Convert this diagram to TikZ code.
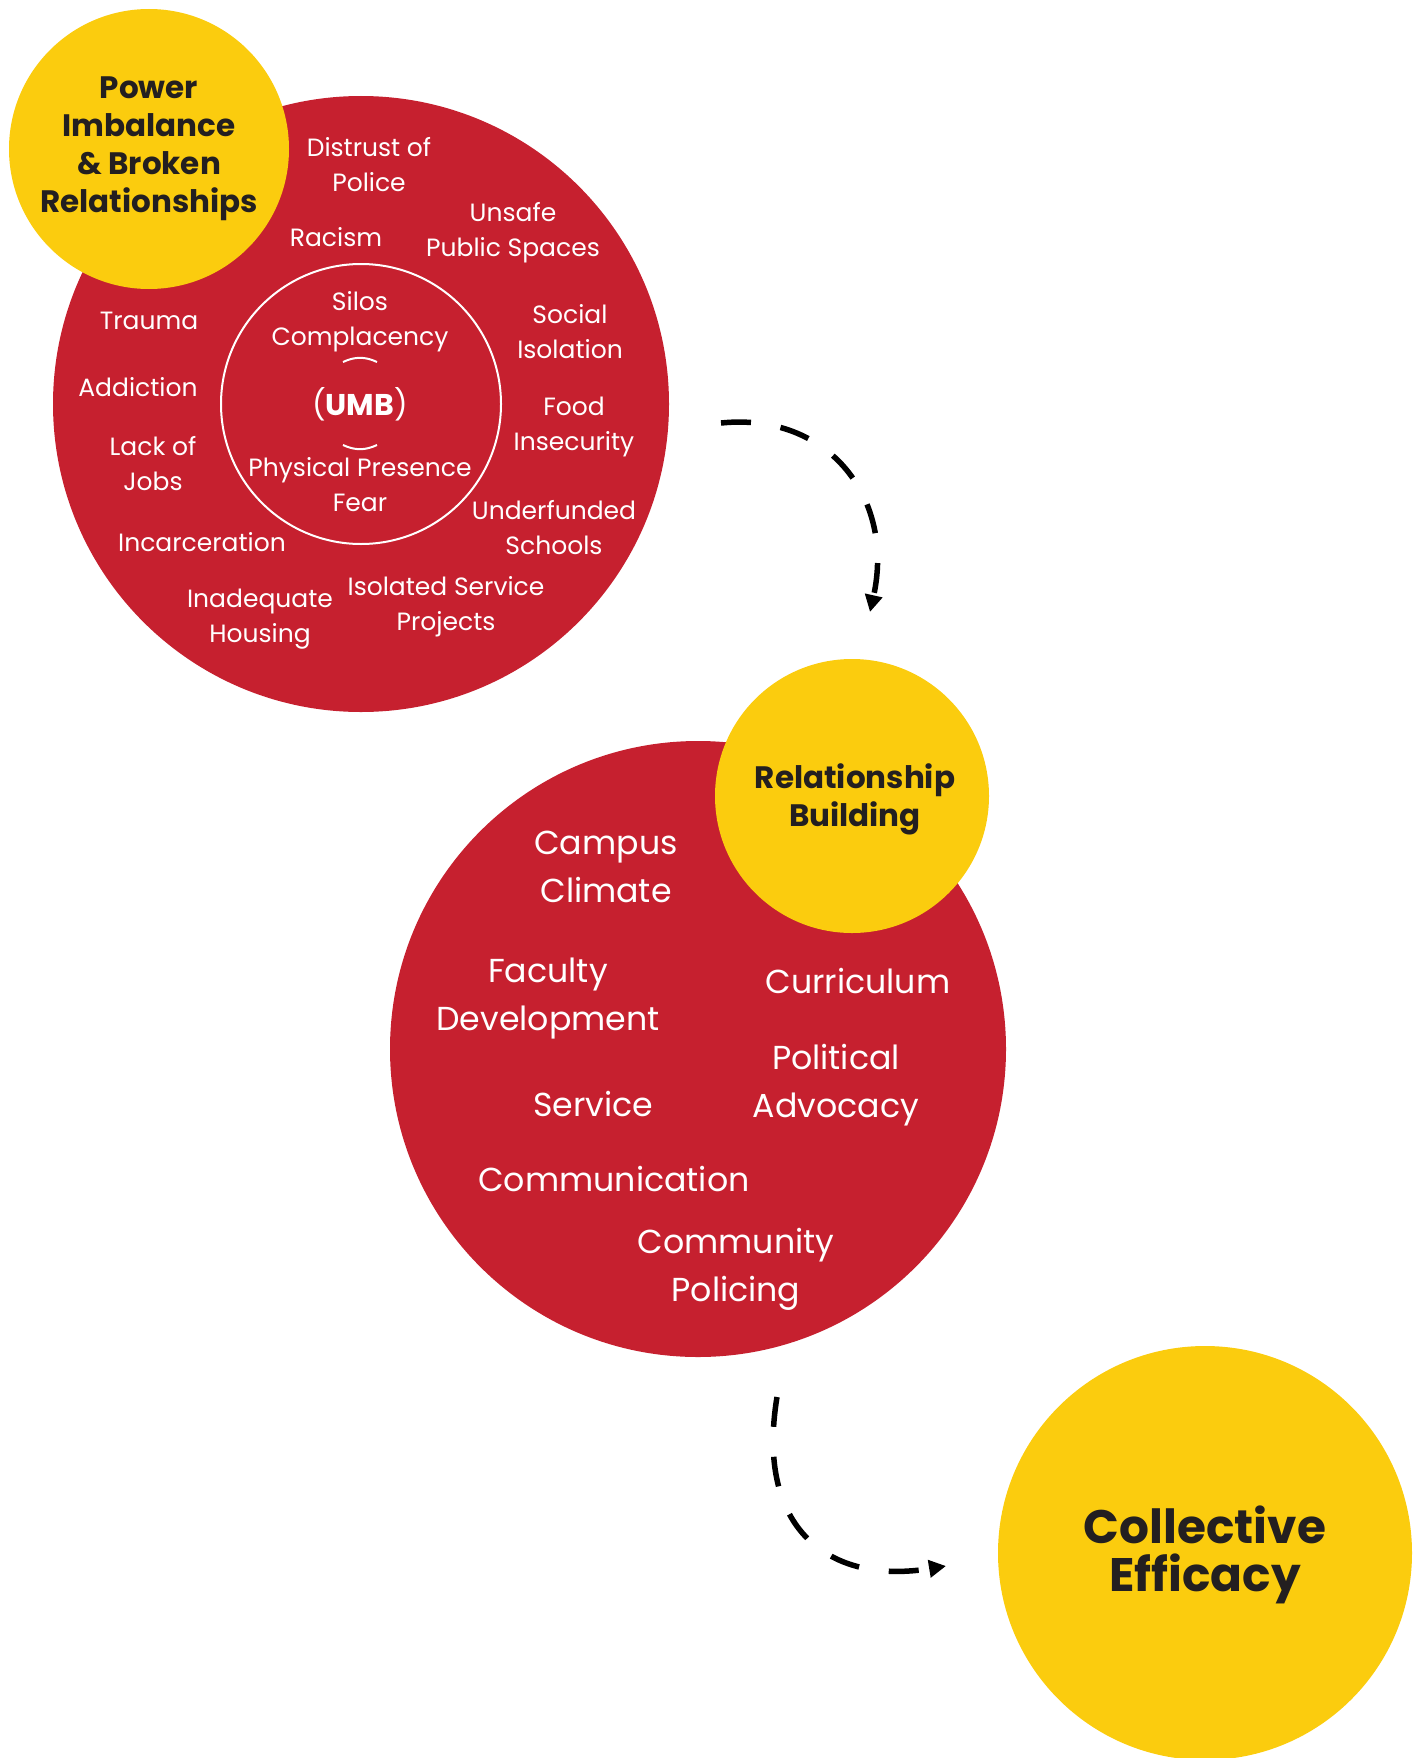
\documentclass[tikz,border=0pt]{standalone}
\usepackage{fontspec}
\setmainfont{Poppins}
\usepackage{tikz}
\usetikzlibrary{arrows.meta, positioning, calc}
\definecolor{umbred}{RGB}{198,32,47}
\definecolor{umbyellow}{RGB}{251,204,14}
\definecolor{umbtext}{RGB}{35,31,32}

\begin{document}
\begin{tikzpicture}[
    x=1pt, y=-1pt,
    redcirc/.style={circle, fill=umbred, inner sep=0pt, outer sep=0pt},
    yelcirc/.style={circle, fill=umbyellow, inner sep=0pt, outer sep=0pt},
    small/.style={text=white, align=center, font=\fontsize{25}{35}\selectfont},
    big/.style={text=white, align=center, font=\fontsize{33.2}{48}\selectfont},
    head/.style={text=umbtext, align=center, font=\fontsize{31}{38}\selectfont\bfseries},
    flow/.style={line width=5.5pt, dash pattern=on 30pt off 30pt, -{Triangle[length=17pt,width=17pt]}}
]
\useasboundingbox (0,0) rectangle (1421,1758);

% Circles
\node[redcirc, minimum size=616pt] (problems) at (361,404) {};
\node[circle, draw=white, line width=2pt, minimum size=280pt, inner sep=0pt] (umbring) at (361,404) {};
\node[yelcirc, minimum size=280pt] (power) at (149,149) {};
\node[redcirc, minimum size=616pt] (actions) at (698,1049) {};
\node[yelcirc, minimum size=274pt] (building) at (852,796) {};
\node[yelcirc, minimum size=414pt] (efficacy) at (1205,1553) {};

% Headings
\node[head] at (149,149) {Power\\Imbalance\\\& Broken\\Relationships};
\node[head] at (855,799) {Relationship\\Building};
\node[head, font=\fontsize{47}{48}\selectfont\bfseries] at (1205,1555) {Collective\\Efficacy};

% Problems
\node[small] (distrust) at (369,165) {Distrust of\\Police};
\node[small] (unsafe) at (513,233) {Unsafe\\Public Spaces};
\node[small] (racism) at (336,237) {Racism};
\node[small] (trauma) at (149,321) {Trauma};
\node[small] (social) at (570,332) {Social\\Isolation};
\node[small] (addiction) at (138,387) {Addiction};
\node[small] (food) at (574,427) {Food\\Insecurity};
\node[small] (jobs) at (153,464) {Lack of\\Jobs};
\node[small] (schools) at (554,528) {Underfunded\\Schools};
\node[small] (prison) at (202,542) {Incarceration};
\node[small] (projects) at (446,607) {Isolated Service\\Projects};
\node[small] (housing) at (260,619) {Inadequate\\Housing};

% UMB core
\node[small] (silos) at (360,322) {Silos\\Complacency};
\node[small, font=\fontsize{30}{35}\selectfont] (umb) at (360,404) {(\textbf{UMB})};
\node[small] (presence) at (360,485) {Physical Presence\\Fear};
\draw[white, line width=2pt] ($(umb)+(-17,-42)$) to[bend left=25] ($(umb)+(17,-42)$);
\draw[white, line width=2pt] ($(umb)+(-17,41)$) to[bend right=25] ($(umb)+(17,41)$);

% Actions
\node[big] (campus) at (606,867) {Campus\\Climate};
\node[big] (faculty) at (548,999) {Faculty\\Development};
\node[big] (curriculum) at (858,981) {Curriculum};
\node[big] (advocacy) at (836,1085) {Political\\Advocacy};
\node[big] (service) at (593,1104) {Service};
\node[big] (comm) at (614,1179) {Communication};
\node[big] (policing) at (736,1269) {Community\\Policing};

% Arrows
\coordinate (f1s) at (721,423);
\coordinate (f1e) at (870,612);
\coordinate (f2s) at (777,1397);
\coordinate (f2e) at (946,1566);
\draw[flow] (f1s) .. controls (830,412) and (895,500) .. (f1e);
\draw[flow] (f2s) .. controls (755,1530) and (830,1585) .. (f2e);

\end{tikzpicture}
\end{document}
